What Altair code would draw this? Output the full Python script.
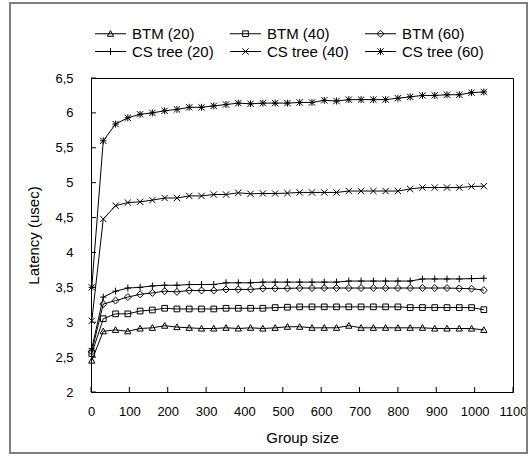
import altair as alt
import pandas as pd

group_size = [2, 32, 64, 96, 128, 160, 192, 224, 256, 288, 320, 352, 384, 416, 448, 480,
              512, 544, 576, 608, 640, 672, 704, 736, 768, 800, 832, 864, 896, 928, 960, 992, 1024]

series_names = ["BTM (20)", "BTM (40)", "BTM (60)", "CS tree (20)", "CS tree (40)", "CS tree (60)"]

btm20 = [2.45, 2.87, 2.89, 2.87, 2.91, 2.92, 2.95, 2.93, 2.92, 2.91, 2.91, 2.92, 2.91, 2.92, 2.91, 2.92,
         2.935, 2.935, 2.92, 2.92, 2.92, 2.95, 2.92, 2.92, 2.92, 2.92, 2.92, 2.92, 2.91, 2.91, 2.91, 2.91, 2.89]
btm40 = [2.55, 3.05, 3.12, 3.12, 3.16, 3.175, 3.20, 3.19, 3.19, 3.19, 3.19, 3.20, 3.20, 3.20, 3.20, 3.21,
         3.215, 3.22, 3.22, 3.22, 3.22, 3.22, 3.22, 3.22, 3.22, 3.22, 3.21, 3.21, 3.21, 3.21, 3.21, 3.21, 3.18]
btm60 = [2.58, 3.26, 3.31, 3.36, 3.40, 3.42, 3.445, 3.435, 3.455, 3.455, 3.455, 3.47, 3.47, 3.47, 3.485, 3.485,
         3.485, 3.49, 3.49, 3.49, 3.49, 3.49, 3.49, 3.49, 3.49, 3.49, 3.49, 3.49, 3.49, 3.49, 3.485, 3.48, 3.46]
cs20 = [2.62, 3.36, 3.445, 3.49, 3.50, 3.52, 3.53, 3.53, 3.54, 3.54, 3.54, 3.565, 3.565, 3.565, 3.575, 3.575,
        3.575, 3.575, 3.575, 3.575, 3.575, 3.59, 3.59, 3.59, 3.59, 3.59, 3.59, 3.62, 3.62, 3.62, 3.62, 3.625, 3.63]
cs40 = [3.02, 4.48, 4.67, 4.715, 4.725, 4.75, 4.78, 4.78, 4.81, 4.81, 4.83, 4.83, 4.855, 4.84, 4.845, 4.845,
        4.85, 4.86, 4.86, 4.86, 4.86, 4.88, 4.88, 4.88, 4.88, 4.88, 4.91, 4.93, 4.93, 4.93, 4.93, 4.945, 4.95]
cs60 = [3.50, 5.60, 5.84, 5.93, 5.98, 6.00, 6.03, 6.05, 6.08, 6.08, 6.10, 6.12, 6.14, 6.13, 6.14, 6.14,
        6.14, 6.15, 6.15, 6.18, 6.17, 6.19, 6.19, 6.19, 6.19, 6.21, 6.23, 6.25, 6.25, 6.26, 6.26, 6.29, 6.30]

y_ticks = [2, 2.5, 3, 3.5, 4, 4.5, 5, 5.5, 6, 6.5]
x_ticks = [0, 100, 200, 300, 400, 500, 600, 700, 800, 900, 1000, 1100]

# marker glyphs (unit square paths)
marker_paths = [
    "M0,-1L1,0.8L-1,0.8Z",
    "M-0.9,-0.9H0.9V0.9H-0.9Z",
    "M0,-1.1L1.1,0L0,1.1L-1.1,0Z",
    "M0,-1.1V1.1M-1,0H1",
    "M-1,-1L1,1M-1,1L1,-1",
    "M-1,-1L1,1M-1,1L1,-1M0,-1.1V1.1M-1,0H1",
]
legend_paths = ["M-4.9,0H4.9" + p for p in marker_paths]

all_series = [btm20, btm40, btm60, cs20, cs40, cs60]
rows = []
for name, vals in zip(series_names, all_series):
    for gx, gy in zip(group_size, vals):
        rows.append({"series": name, "x": gx, "y": gy})
df = pd.DataFrame(rows)

W, H = 422, 314
FONT = "Liberation Sans"

xs = alt.Scale(domain=[0, 1100], nice=False, zero=False)
ys = alt.Scale(domain=[2, 6.5], nice=False, zero=False)

x_axis = alt.Axis(
    values=x_ticks, format="d", ticks=False, grid=False, labelPadding=13, labelFontSize=13,
    labelFlush=False, labelOverlap=False, labelColor="black", domainColor="black",
    title="Group size", titleFontSize=15, titleFontWeight="normal", titleColor="black",
    titleX=W / 2, titleY=45, titleBaseline="middle", titleAlign="center")
y_axis = alt.Axis(
    values=y_ticks, labelExpr="replace(toString(datum.value), '.', ',')",
    ticks=False, grid=False, labelPadding=18, labelFontSize=13, labelOverlap=False,
    labelColor="black", domainColor="black",
    title="Latency (usec)", titleFontSize=15, titleFontWeight="normal", titleColor="black",
    titleX=-58, titleY=H / 2, titleAngle=270, titleBaseline="middle", titleAlign="center")

base = alt.Chart(df)

lines = base.mark_line(color="black", strokeWidth=1).encode(
    x=alt.X("x:Q", scale=xs, axis=x_axis),
    y=alt.Y("y:Q", scale=ys, axis=y_axis),
    detail="series:N",
)

points = base.mark_point(filled=False, color="black", strokeWidth=1, size=40, opacity=1).encode(
    x=alt.X("x:Q", scale=xs, axis=x_axis),
    y=alt.Y("y:Q", scale=ys, axis=y_axis),
    shape=alt.Shape("series:N", scale=alt.Scale(domain=series_names, range=marker_paths), legend=None),
)

legend_layer = base.transform_filter("false").mark_point(
    filled=False, color="black", strokeWidth=1, size=40, opacity=1).encode(
    x=alt.X("x:Q", scale=xs, axis=x_axis),
    y=alt.Y("y:Q", scale=ys, axis=y_axis),
    shape=alt.Shape("series:N", scale=alt.Scale(domain=series_names, range=legend_paths),
                    legend=alt.Legend(title=None, orient="none", legendX=4, legendY=-52,
                                      direction="horizontal", columns=3, gridAlign="all",
                                      labelFontSize=15, labelOffset=14, symbolSize=40,
                                      symbolOffset=8,
                                      rowPadding=2, columnPadding=14, padding=0,
                                      symbolStrokeWidth=1, symbolStrokeColor="black",
                                      labelColor="black", labelFont=FONT)),
)

tick_y = alt.Chart(pd.DataFrame({"y": y_ticks})).mark_rule(color="black", strokeWidth=1).encode(
    y=alt.Y("y:Q", scale=ys, axis=y_axis), x=alt.value(0), x2=alt.value(5))
tick_x = alt.Chart(pd.DataFrame({"x": x_ticks})).mark_rule(color="black", strokeWidth=1).encode(
    x=alt.X("x:Q", scale=xs, axis=x_axis), y=alt.value(H), y2=alt.value(H - 5))

frame = alt.Chart(pd.DataFrame({"a": [0]})).mark_rect(
    fill="transparent", stroke="#7f7f7f", strokeWidth=2).encode(
    x=alt.value(-81), x2=alt.value(436), y=alt.value(-75), y2=alt.value(375))

chart = alt.layer(frame, lines, points, legend_layer, tick_y, tick_x).resolve_scale(
    shape="independent"
).properties(
    width=W, height=H,
    autosize=alt.AutoSizeParams(type="none"),
    padding={"left": 91, "top": 78, "right": 18, "bottom": 65},
    background="white",
).configure(font=FONT).configure_view(stroke="black", strokeWidth=1)

chart.save("out.html", embed_options={"renderer": "svg", "actions": False})
